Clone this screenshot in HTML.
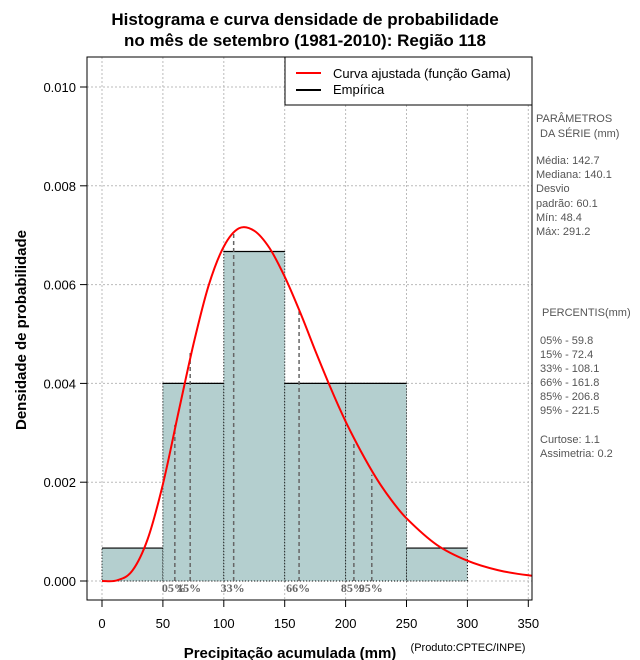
<!DOCTYPE html>
<html><head><meta charset="utf-8"><style>
body{margin:0;background:#fff;}
svg{display:block;font-family:"Liberation Sans",sans-serif;}
</style></head><body>
<svg id="chart" width="640" height="660" viewBox="0 0 640 660">
<defs><clipPath id="pc"><rect x="87" y="57" width="445" height="543"/></clipPath></defs>
<text x="305" y="25" text-anchor="middle" font-size="17" font-weight="bold">Histograma e curva densidade de probabilidade</text>
<text x="305" y="46" text-anchor="middle" font-size="17" font-weight="bold">no mês de setembro (1981-2010): Região 118</text>
<g id="grid"></g>
<g id="bars"></g>
<g id="pct"></g>
<path id="curve" fill="none" stroke="#ff0000" stroke-width="2" clip-path="url(#pc)"/>
<rect x="87" y="57" width="445" height="543" fill="none" stroke="#000"/>
<g id="xticks"></g>
<g id="yticks"></g>
<text x="290" y="658" text-anchor="middle" font-size="15" font-weight="bold">Precipitação acumulada (mm)</text>
<text x="468" y="651" text-anchor="middle" font-size="11">(Produto:CPTEC/INPE)</text>
<text transform="translate(26,330) rotate(-90)" text-anchor="middle" font-size="15" font-weight="bold">Densidade de probabilidade</text>
<g>
<rect x="285" y="57" width="247" height="48" fill="#fff" stroke="#000"/>
<line x1="296" y1="73" x2="321" y2="73" stroke="#ff0000" stroke-width="2"/>
<text x="333" y="78" font-size="13">Curva ajustada (função Gama)</text>
<line x1="296" y1="90" x2="321" y2="90" stroke="#000" stroke-width="2"/>
<text x="333" y="94" font-size="13">Empírica</text>
</g>
<g font-size="11" fill="#555">
<text x="536" y="122">PARÂMETROS</text>
<text x="540" y="137">DA SÉRIE (mm)</text>
<text x="536" y="164">Média:  142.7</text>
<text x="536" y="178">Mediana:  140.1</text>
<text x="536" y="192">Desvio</text>
<text x="536" y="207">padrão:  60.1</text>
<text x="536" y="221">Mín:  48.4</text>
<text x="536" y="235">Máx:  291.2</text>
<text x="542" y="316">PERCENTIS(mm)</text>
<text x="540" y="344">05% -  59.8</text>
<text x="540" y="358">15% -  72.4</text>
<text x="540" y="372">33% -  108.1</text>
<text x="540" y="386">66% -  161.8</text>
<text x="540" y="400">85% -  206.8</text>
<text x="540" y="414">95% -  221.5</text>
<text x="540" y="443">Curtose:  1.1</text>
<text x="540" y="457">Assimetria:  0.2</text>
</g>
</svg>
<script>
const binEdges=[0,50,100,150,200,250,300];
const binDensity=[0.000667,0.004,0.00667,0.004,0.004,0.000667];
const curveX=[0,12.5,25,37.5,50,62.5,75,87.5,100,112.5,125,137.5,150,162.5,175,187.5,200,212.5,225,237.5,250,275,300,325,350,375];
const curveY=[0,0.000014,0.00021,0.00085,0.00196,0.00338,0.00478,0.00598,0.00677,0.00714,0.00709,0.00674,0.00616,0.00545,0.00467,0.00392,0.00323,0.00263,0.00209,0.00164,0.00127,0.00073,0.00041,0.00022,0.000116,0.00006];
const pctLabels=["05%","15%","33%","66%","85%","95%"];
const pctValues=[59.8,72.4,108.1,161.8,206.8,221.5];
const pctDensity=[0.00316,0.00466,0.00703,0.00546,0.00283,0.00215];
const xTicks=[0,50,100,150,200,250,300,350];
const yTicks=[0,0.002,0.004,0.006,0.008,0.010];
const yTickLabels=["0.000","0.002","0.004","0.006","0.008","0.010"];
const NS="http://www.w3.org/2000/svg";
const X=v=>102+v*1.218, Y=v=>581-v*49400;
function mk(tag,attrs,parent){const e=document.createElementNS(NS,tag);for(const k in attrs)e.setAttribute(k,attrs[k]);document.getElementById(parent).appendChild(e);return e;}
xTicks.forEach(t=>{
 const g=mk('line',{x1:X(t),x2:X(t),y1:57,y2:600,stroke:'#bbb','stroke-dasharray':'2,2'},'grid');
 
 
 const tk=mk('line',{x1:X(t),x2:X(t),y1:600,y2:607,stroke:'#000'},'xticks');
 
 
 const tx=mk('text',{x:X(t),y:628,'text-anchor':'middle','font-size':'13'},'xticks');
 tx.textContent=t;
 
 
});
yTicks.forEach((t,i)=>{
 const g=mk('line',{x1:87,x2:532,y1:Y(t),y2:Y(t),stroke:'#bbb','stroke-dasharray':'2,2'},'grid');
 
 
 const tk=mk('line',{x1:80,x2:87,y1:Y(t),y2:Y(t),stroke:'#000'},'yticks');
 
 
 const tx=mk('text',{x:76,y:Y(t)+5,'text-anchor':'end','font-size':'13'},'yticks');
 tx.textContent=yTickLabels[i];
 
 
});
binDensity.forEach((d,i)=>{
 const x0=X(binEdges[i]),x1=X(binEdges[i+1]),y=Y(d);
 const r=mk('rect',{x:x0,y:y,width:x1-x0,height:Y(0)-y,fill:'#b4cfcf',stroke:'#000','stroke-dasharray':'1,2'},'bars');
 
 
 const t=mk('line',{x1:x0,x2:x1,y1:y,y2:y,stroke:'#000','stroke-width':'1.2'},'bars');
 
 
});
pctValues.forEach((v,i)=>{
 const l=mk('line',{x1:X(v),x2:X(v),y1:Y(0),y2:Y(pctDensity[i]),stroke:'#666','stroke-width':'1.5','stroke-dasharray':'4,3'},'pct');
 
 
 const t=mk('text',{x:X(v)-13,y:Y(0)+11,'font-size':'12','font-weight':'bold',fill:'#666','font-family':'Liberation Serif, serif'},'pct');
 t.textContent=pctLabels[i];
 
 
});
const P=curveX.map((v,i)=>[X(v),Y(curveY[i])]);
const n=P.length;
const m=P.map((p,i)=>{
 if(i===0) return 0;
 if(i===n-1) return (P[n-1][1]-P[n-2][1])/(P[n-1][0]-P[n-2][0]);
 return (P[i+1][1]-P[i-1][1])/(P[i+1][0]-P[i-1][0]);
});
let d='M'+P[0][0].toFixed(1)+','+P[0][1].toFixed(1);
for(let i=0;i<n-1;i++){
 const dx=(P[i+1][0]-P[i][0])/3;
 d+='C'+(P[i][0]+dx).toFixed(1)+','+(P[i][1]+m[i]*dx).toFixed(1)+' '+(P[i+1][0]-dx).toFixed(1)+','+(P[i+1][1]-m[i+1]*dx).toFixed(1)+' '+P[i+1][0].toFixed(1)+','+P[i+1][1].toFixed(1);
}
document.getElementById('curve').setAttribute('d',d);
</script>
</body></html>
